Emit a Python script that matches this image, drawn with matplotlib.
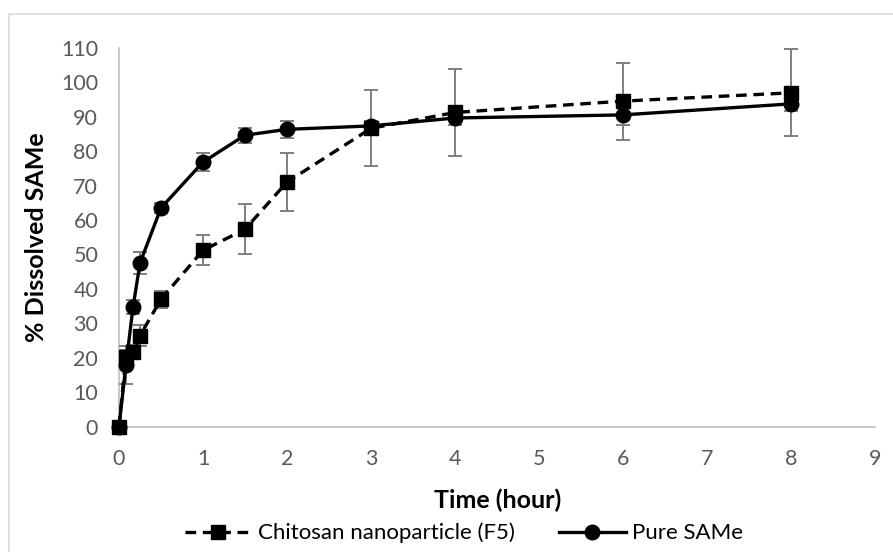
import matplotlib
matplotlib.use("Agg")
import matplotlib.pyplot as plt
from matplotlib.patches import Rectangle

time_h = [0, 0.083, 0.167, 0.25, 0.5, 1, 1.5, 2, 3, 4, 6, 8]
chitosan = [0, 20.3, 21.7, 26.4, 37.0, 51.2, 57.3, 71.0, 86.6, 91.2, 94.5, 96.9]
chitosan_err = [0, 2.0, 2.0, 3.0, 2.5, 4.3, 7.2, 8.4, 11.0, 12.6, 11.2, 12.6]
pure = [0, 18.0, 34.7, 47.5, 63.5, 76.8, 84.6, 86.3, 87.3, 89.6, 90.5, 93.7]
pure_err = [0, 5.5, 2.0, 3.2, 1.5, 2.6, 2.2, 2.4, 1.5, 2.0, 2.9, 2.0]
labels = ["Chitosan nanoparticle (F5)", "Pure SAMe"]
xticks = list(range(0, 10))
yticks = list(range(0, 111, 10))

plt.rcParams['font.family'] = ['Lato', 'DejaVu Sans']

fig = plt.figure(figsize=(8.93, 5.52), dpi=100)
ax = fig.add_axes([119/893, 1-426.7/552, (875-119)/893, (426.7-47.7)/552])

err_kw = dict(ecolor='#7f7f7f', elinewidth=1.4, capsize=5, capthick=1.4)
ax.errorbar(time_h, chitosan, yerr=chitosan_err, fmt='none', zorder=2, clip_on=False, **err_kw)
ax.errorbar(time_h, pure, yerr=pure_err, fmt='none', zorder=2, clip_on=False, **err_kw)
l1, = ax.plot(time_h, chitosan, color='black', lw=2.4, ls=(0, (3.2, 2.0)),
              marker='s', ms=10, mfc='black', mec='black', zorder=4, label=labels[0],
              clip_on=False)
l2, = ax.plot(time_h, pure, color='black', lw=2.4, ls='-',
              marker='o', ms=10.5, mfc='black', mec='black', zorder=3, label=labels[1],
              clip_on=False)

ax.set_xlim(0, 9)
ax.set_ylim(0, 110)
ax.set_xticks(xticks)
ax.set_yticks(yticks)
ax.tick_params(axis='both', length=0, labelsize=15.5, colors='#595959')
ax.tick_params(axis='y', pad=15)
ax.tick_params(axis='x', pad=16)
for s in ['top', 'right']:
    ax.spines[s].set_visible(False)
for s in ['left', 'bottom']:
    ax.spines[s].set_color('#bfbfbf')
    ax.spines[s].set_linewidth(1.2)
    ax.spines[s].set_zorder(1)

fig.text(37/893, 1-237/552, "% Dissolved SAMe", fontsize=18, fontweight='bold',
         rotation=90, ha='center', va='center', color='black')
fig.text(498/893, 1-500/552, "Time (hour)", fontsize=18, fontweight='bold',
         ha='center', va='center', color='black')

fig.legend(handles=[l1, l2], labels=labels, loc='center',
           bbox_to_anchor=(464/893, 1-533/552), ncol=2, frameon=False,
           fontsize=16, handlelength=3.0, columnspacing=2.0, handletextpad=0.3,
           borderpad=0, borderaxespad=0)

fig.patches.append(Rectangle((9/893, -0.1), 1.2, 1-14/552+0.1, transform=fig.transFigure,
                             fill=False, edgecolor='#d9d9d9', lw=1.2, zorder=0))

fig.savefig("out.png", dpi=100)
